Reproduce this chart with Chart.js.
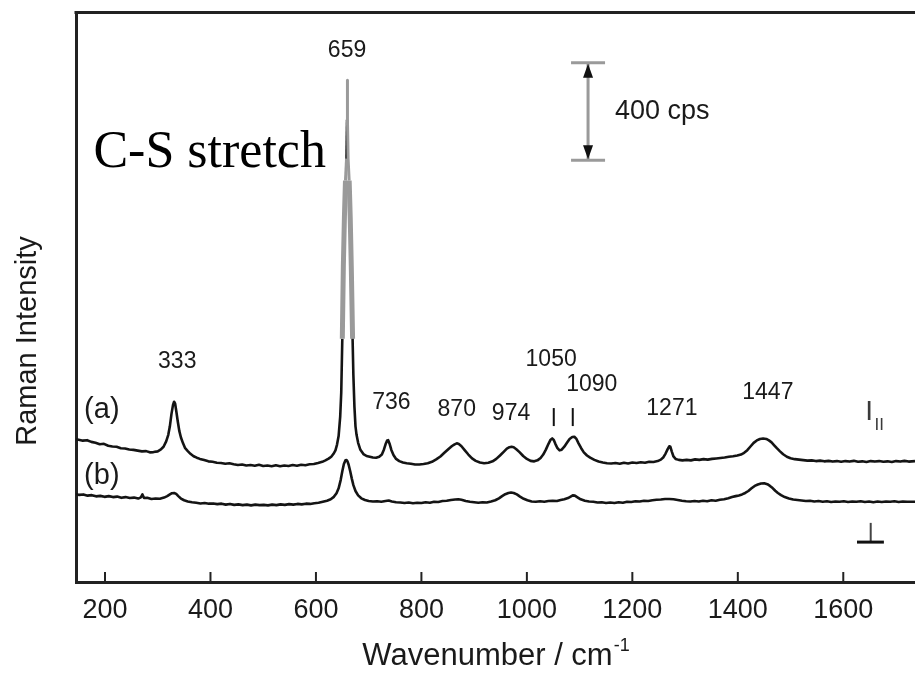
<!DOCTYPE html>
<html>
<head>
<meta charset="utf-8">
<title>Raman spectrum</title>
<script src="https://cdn.jsdelivr.net/npm/chart.js@4.4.1/dist/chart.umd.min.js"></script>
<style>
  html, body { margin: 0; padding: 0; background: #fff; }
  #wrap { width: 915px; height: 684px; position: relative; }
</style>
</head>
<body>
<div id="wrap"><canvas id="ramanChart"></canvas></div>
<script>
// spectrum (a), I parallel — wavenumber in cm-1, intensity in cps
const wavenumberA = [145, 150, 158, 166, 174, 182, 190, 198, 206, 214, 222, 230, 238, 246, 254, 262, 270, 278, 285, 292,
  300, 306, 311, 316, 320, 323, 326, 329, 331, 333, 335, 338, 341, 344, 348, 352, 357, 362, 368, 374,
  380, 388, 396, 404, 412, 420, 428, 436, 444, 452, 460, 468, 476, 484, 492, 500, 508, 516, 524, 532,
  540, 548, 556, 564, 572, 580, 588, 596, 604, 612, 618, 624, 629, 633, 637, 640, 643, 646, 648, 650,
  652, 654, 656, 658, 659, 659.5, 660, 661, 663, 665, 667, 669.5, 671, 673, 675, 677, 680, 684, 690, 696,
  702, 708, 714, 720, 725, 729, 732, 735, 737, 740, 743, 747, 752, 758, 765, 772, 780, 788, 796, 804,
  812, 820, 828, 836, 844, 852, 858, 863, 867, 871, 876, 882, 889, 896, 903, 911, 919, 927, 935, 942,
  949, 956, 962, 967, 971, 975, 980, 986, 993, 1000, 1007, 1014, 1020, 1026, 1031, 1036, 1041, 1045, 1048, 1051,
  1054, 1058, 1062, 1066, 1071, 1076, 1081, 1086, 1090, 1094, 1098, 1103, 1108, 1114, 1120, 1128, 1136, 1144, 1152, 1160,
  1168, 1176, 1184, 1192, 1200, 1208, 1216, 1224, 1232, 1240, 1248, 1254, 1259, 1263, 1267, 1270, 1272, 1275, 1278, 1282,
  1288, 1295, 1303, 1311, 1319, 1327, 1335, 1343, 1351, 1359, 1367, 1375, 1383, 1391, 1399, 1406, 1412, 1418, 1424, 1430,
  1436, 1442, 1448, 1454, 1459, 1464, 1469, 1474, 1480, 1486, 1493, 1500, 1508, 1516, 1524, 1532, 1540, 1548, 1556, 1564,
  1572, 1580, 1588, 1596, 1604, 1612, 1620, 1628, 1636, 1644, 1652, 1660, 1668, 1676, 1684, 1692, 1700, 1708, 1716, 1724, 1736];
const intensityA = [587, 585, 581, 583, 576, 572, 566, 568, 560, 557, 556, 550, 549, 545, 543, 540, 537, 538, 533, 534,
  537, 545, 556, 578, 605, 640, 690, 728, 741, 733, 705, 660, 620, 594, 570, 550, 538, 527, 517, 511,
  506, 501, 496, 494, 490, 489, 486, 488, 484, 481, 483, 479, 481, 478, 482, 477, 479, 476, 480, 476,
  479, 477, 481, 478, 482, 480, 484, 485, 489, 494, 500, 507, 515, 526, 541, 565, 600, 680, 780, 1000,
  1300, 1500, 1650, 1740, 1900, 2063, 1900, 1740, 1650, 1500, 1300, 1000, 850, 720, 640, 605, 572, 545, 526, 518,
  515, 512, 511, 515, 524, 545, 566, 582, 583, 566, 543, 522, 506, 497, 491, 488, 486, 483, 483, 485,
  488, 494, 504, 516, 532, 548, 559, 566, 570, 567, 558, 542, 524, 508, 498, 491, 488, 490, 496, 506,
  520, 535, 548, 554, 556, 554, 546, 534, 518, 506, 498, 496, 500, 510, 524, 544, 568, 585, 590, 584,
  568, 550, 541, 544, 556, 572, 588, 596, 597, 588, 570, 550, 533, 520, 511, 502, 495, 491, 488, 487,
  489, 486, 490, 487, 491, 489, 492, 490, 494, 493, 497, 503, 513, 528, 546, 558, 556, 535, 516, 506,
  502, 500, 502, 500, 504, 502, 505, 503, 506, 508, 510, 512, 515, 517, 520, 524, 531, 542, 557, 572,
  582, 588, 590, 588, 582, 574, 562, 550, 537, 525, 515, 509, 505, 503, 501, 499, 500, 497, 499, 496,
  498, 495, 497, 494, 497, 495, 498, 494, 496, 493, 497, 495, 497, 494, 496, 493, 497, 495, 498, 495, 497];

// spectrum (b), I perpendicular
const wavenumberB = [145, 151, 159, 167, 175, 183, 191, 199, 207, 215, 223, 231, 239, 247, 255, 263, 268, 271, 274, 280,
  288, 296, 304, 312, 318, 323, 327, 331, 335, 339, 344, 350, 357, 365, 373, 381, 389, 397, 405, 413,
  421, 429, 437, 445, 453, 461, 469, 477, 485, 493, 501, 509, 517, 525, 533, 541, 549, 557, 565, 573,
  581, 589, 597, 605, 613, 621, 628, 634, 639, 643, 647, 650, 653, 656, 658, 660, 662, 665, 668, 671,
  675, 680, 686, 693, 700, 708, 716, 724, 732, 738, 744, 752, 760, 768, 776, 784, 792, 800, 808, 816,
  824, 832, 840, 848, 856, 864, 870, 876, 884, 892, 900, 908, 916, 924, 932, 940, 947, 953, 959, 965,
  970, 975, 981, 987, 994, 1001, 1009, 1017, 1025, 1033, 1041, 1049, 1057, 1064, 1071, 1078, 1083, 1087, 1091, 1096,
  1102, 1110, 1118, 1126, 1134, 1142, 1150, 1158, 1166, 1174, 1182, 1190, 1198, 1206, 1214, 1222, 1230, 1238, 1246, 1254,
  1262, 1270, 1278, 1286, 1294, 1302, 1310, 1318, 1326, 1334, 1342, 1350, 1358, 1366, 1374, 1382, 1389, 1396, 1402, 1408,
  1414, 1420, 1426, 1432, 1438, 1444, 1450, 1456, 1461, 1466, 1471, 1476, 1482, 1489, 1497, 1505, 1513, 1521, 1529, 1537,
  1545, 1553, 1561, 1569, 1577, 1585, 1593, 1601, 1609, 1617, 1625, 1633, 1641, 1649, 1657, 1665, 1673, 1681, 1689, 1697,
  1705, 1713, 1721, 1736];
const intensityB = [362, 358, 360, 355, 357, 352, 354, 350, 353, 349, 351, 346, 349, 345, 347, 343, 348, 360, 345, 346,
  341, 343, 342, 347, 353, 360, 365, 366, 362, 353, 343, 336, 331, 328, 326, 323, 325, 322, 323, 320,
  322, 318, 321, 317, 319, 316, 318, 315, 318, 316, 317, 315, 318, 316, 319, 317, 320, 318, 321, 319,
  322, 321, 324, 326, 330, 334, 340, 350, 365, 385, 420, 455, 485, 500, 501, 495, 482, 455, 425, 398,
  374, 356, 344, 337, 333, 331, 332, 330, 333, 335, 331, 328, 327, 325, 327, 324, 326, 325, 328, 326,
  330, 329, 333, 334, 337, 339, 340, 338, 333, 330, 328, 326, 328, 327, 331, 336, 344, 353, 361, 366,
  368, 366, 360, 351, 342, 336, 331, 330, 332, 330, 333, 334, 333, 337, 340, 345, 351, 356, 355, 348,
  340, 334, 331, 330, 327, 328, 325, 327, 325, 328, 326, 330, 329, 332, 331, 334, 333, 336, 338, 339,
  341, 341, 340, 337, 334, 332, 331, 333, 331, 334, 332, 336, 334, 338, 340, 344, 349, 353, 356, 360,
  366, 374, 385, 395, 401, 405, 406, 402, 395, 386, 375, 366, 357, 349, 343, 339, 337, 335, 333, 334,
  331, 333, 330, 332, 329, 331, 330, 332, 329, 331, 330, 332, 329, 331, 328, 331, 329, 331, 330, 332,
  329, 331, 330, 330];

const xTickValues = [200, 400, 600, 800, 1000, 1200, 1400, 1600];
const peakLabels = ["333", "659", "736", "870", "974", "1050", "1090", "1271", "1447"];
// label anchors in data units [cm-1, cps]
const peakLabelAt = [[337, 904], [659, 2184], [743, 736], [867, 707], [970, 690], [1046, 916], [1123, 810], [1275, 711], [1457, 777]];
const bandMarks = [1051, 1087];
const scaleBar = { x: 1116, from: 1734, span: 400, text: "400 cps" };

const sans = '"Liberation Sans", Arial, sans-serif';
const ink = '#1a1a1a';

const overlay = {
  id: 'overlay',
  afterDraw(chart) {
    const { ctx, chartArea: area, scales: { x, y } } = chart;
    const px = v => x.getPixelForValue(v);
    const py = v => y.getPixelForValue(v);
    ctx.save();

    // top frame line
    ctx.strokeStyle = '#222';
    ctx.lineWidth = 3;
    ctx.beginPath();
    ctx.moveTo(area.left - 1.5, area.top);
    ctx.lineTo(area.right, area.top);
    ctx.stroke();

    // inward ticks
    ctx.lineWidth = 2;
    x.ticks.forEach(t => {
      const p = px(t.value);
      ctx.beginPath();
      ctx.moveTo(p, area.bottom);
      ctx.lineTo(p, area.bottom - 10);
      ctx.stroke();
    });

    // peak labels
    ctx.fillStyle = ink;
    ctx.textAlign = 'center';
    ctx.textBaseline = 'middle';
    ctx.font = '23px ' + sans;
    peakLabels.forEach((t, i) => ctx.fillText(t, px(peakLabelAt[i][0]), py(peakLabelAt[i][1])));

    // small marks over the 1050 / 1090 doublet
    ctx.strokeStyle = '#111';
    ctx.lineWidth = 2;
    bandMarks.forEach(v => {
      ctx.beginPath();
      ctx.moveTo(px(v), py(715));
      ctx.lineTo(px(v), py(641));
      ctx.stroke();
    });

    // (a) / (b)
    ctx.font = '29px ' + sans;
    ctx.fillText('(a)', px(194), py(707));
    ctx.fillText('(b)', px(194), py(436));

    // polarisation marks
    ctx.fillStyle = '#3a3a3a';
    ctx.font = '28px ' + sans;
    ctx.fillText('I', px(1649), py(697));
    ctx.font = '17px ' + sans;
    ctx.fillText('II', px(1668), py(644));
    ctx.strokeStyle = '#444';
    ctx.lineWidth = 2;
    ctx.beginPath();
    ctx.moveTo(px(1652), py(243));
    ctx.lineTo(px(1652), py(164));
    ctx.stroke();
    ctx.strokeStyle = '#111';
    ctx.lineWidth = 3;
    ctx.beginPath();
    ctx.moveTo(px(1626), py(164));
    ctx.lineTo(px(1677), py(164));
    ctx.stroke();

    // scale bar
    const bx = px(scaleBar.x);
    const yLo = py(scaleBar.from), yHi = py(scaleBar.from + scaleBar.span);
    ctx.strokeStyle = '#9a9a9a';
    ctx.lineWidth = 3;
    ctx.beginPath();
    ctx.moveTo(bx, yHi); ctx.lineTo(bx, yLo);
    ctx.moveTo(bx - 17, yHi); ctx.lineTo(bx + 17, yHi);
    ctx.moveTo(bx - 17, yLo); ctx.lineTo(bx + 17, yLo);
    ctx.stroke();
    ctx.fillStyle = '#111';
    ctx.beginPath();
    ctx.moveTo(bx, yHi + 1); ctx.lineTo(bx - 5, yHi + 15); ctx.lineTo(bx + 5, yHi + 15); ctx.closePath();
    ctx.moveTo(bx, yLo - 1); ctx.lineTo(bx - 5, yLo - 15); ctx.lineTo(bx + 5, yLo - 15); ctx.closePath();
    ctx.fill();
    ctx.fillStyle = ink;
    ctx.textAlign = 'left';
    ctx.font = '27px ' + sans;
    ctx.fillText(scaleBar.text, bx + 27, (yHi + yLo) / 2);

    // C-S stretch
    ctx.fillStyle = '#000';
    ctx.textBaseline = 'alphabetic';
    ctx.font = '52px "Liberation Serif", "Times New Roman", serif';
    ctx.fillText('C-S stretch', px(178), py(1707));

    // axis titles
    ctx.fillStyle = ink;
    ctx.font = '31px ' + sans;
    const main = 'Wavenumber / cm';
    const w = ctx.measureText(main).width;
    ctx.font = '18px ' + sans;
    const ws = ctx.measureText('-1').width;
    const x0 = (area.left + area.right) / 2 - (w + ws) / 2;
    ctx.font = '31px ' + sans;
    ctx.fillText(main, x0, 665);
    ctx.font = '18px ' + sans;
    ctx.fillText('-1', x0 + w + 1, 651);

    ctx.save();
    ctx.translate(28, 341);
    ctx.rotate(-Math.PI / 2);
    ctx.textAlign = 'center';
    ctx.textBaseline = 'middle';
    ctx.font = '29px ' + sans;
    ctx.fillText('Raman Intensity', 0, 0);
    ctx.restore();

    ctx.restore();
  }
};

// the tall 659 band is rendered grey and smeared in the source figure
const isGrey = c => Math.min(c.p0.parsed.y, c.p1.parsed.y) >= 1000;
const isDarkFlank = c => c.p1.parsed.y > c.p0.parsed.y && c.p0.parsed.y >= 1700 && c.p0.parsed.y < 1800;

const ctx = document.getElementById('ramanChart').getContext('2d');
new Chart(ctx, {
  type: 'line',
  data: {
    datasets: [
      {
        label: '(a)',
        data: wavenumberA.map((v, i) => ({ x: v, y: intensityA[i] })),
        borderColor: '#141414',
        borderWidth: 2.6,
        segment: {
          borderColor: c => isDarkFlank(c) ? '#111' : (isGrey(c) ? '#9a9a9a' : undefined),
          borderWidth: c => {
            if (!isGrey(c) || isDarkFlank(c)) return undefined;
            return Math.max(c.p0.parsed.y, c.p1.parsed.y) > 1720 ? 3 : 5;
          }
        }
      },
      {
        label: '(b)',
        data: wavenumberB.map((v, i) => ({ x: v, y: intensityB[i] })),
        borderColor: '#141414',
        borderWidth: 2.6
      }
    ]
  },
  options: {
    responsive: true,
    maintainAspectRatio: false,
    animation: false,
    layout: { padding: { top: 12.5, right: 0, left: 0, bottom: 0 } },
    plugins: { legend: { display: false }, tooltip: { enabled: false } },
    elements: { point: { radius: 0 }, line: { tension: 0, borderJoinStyle: 'round' } },
    scales: {
      x: {
        type: 'linear',
        min: 145,
        max: 1736,
        afterFit: s => { s.height = 102; },
        afterBuildTicks: s => { s.ticks = xTickValues.map(v => ({ value: v })); },
        grid: { display: false, drawTicks: false },
        border: { display: true, color: '#222', width: 3 },
        ticks: {
          autoSkip: false, maxRotation: 0, padding: 12, color: ink,
          font: { family: sans, size: 27 },
          callback: v => String(v)
        }
      },
      y: {
        min: 0,
        max: 2341,
        afterFit: s => { s.width = 76; },
        grid: { display: false, drawTicks: false },
        border: { display: true, color: '#222', width: 3 },
        ticks: { display: false }
      }
    }
  },
  plugins: [overlay]
});
</script>
</body>
</html>
